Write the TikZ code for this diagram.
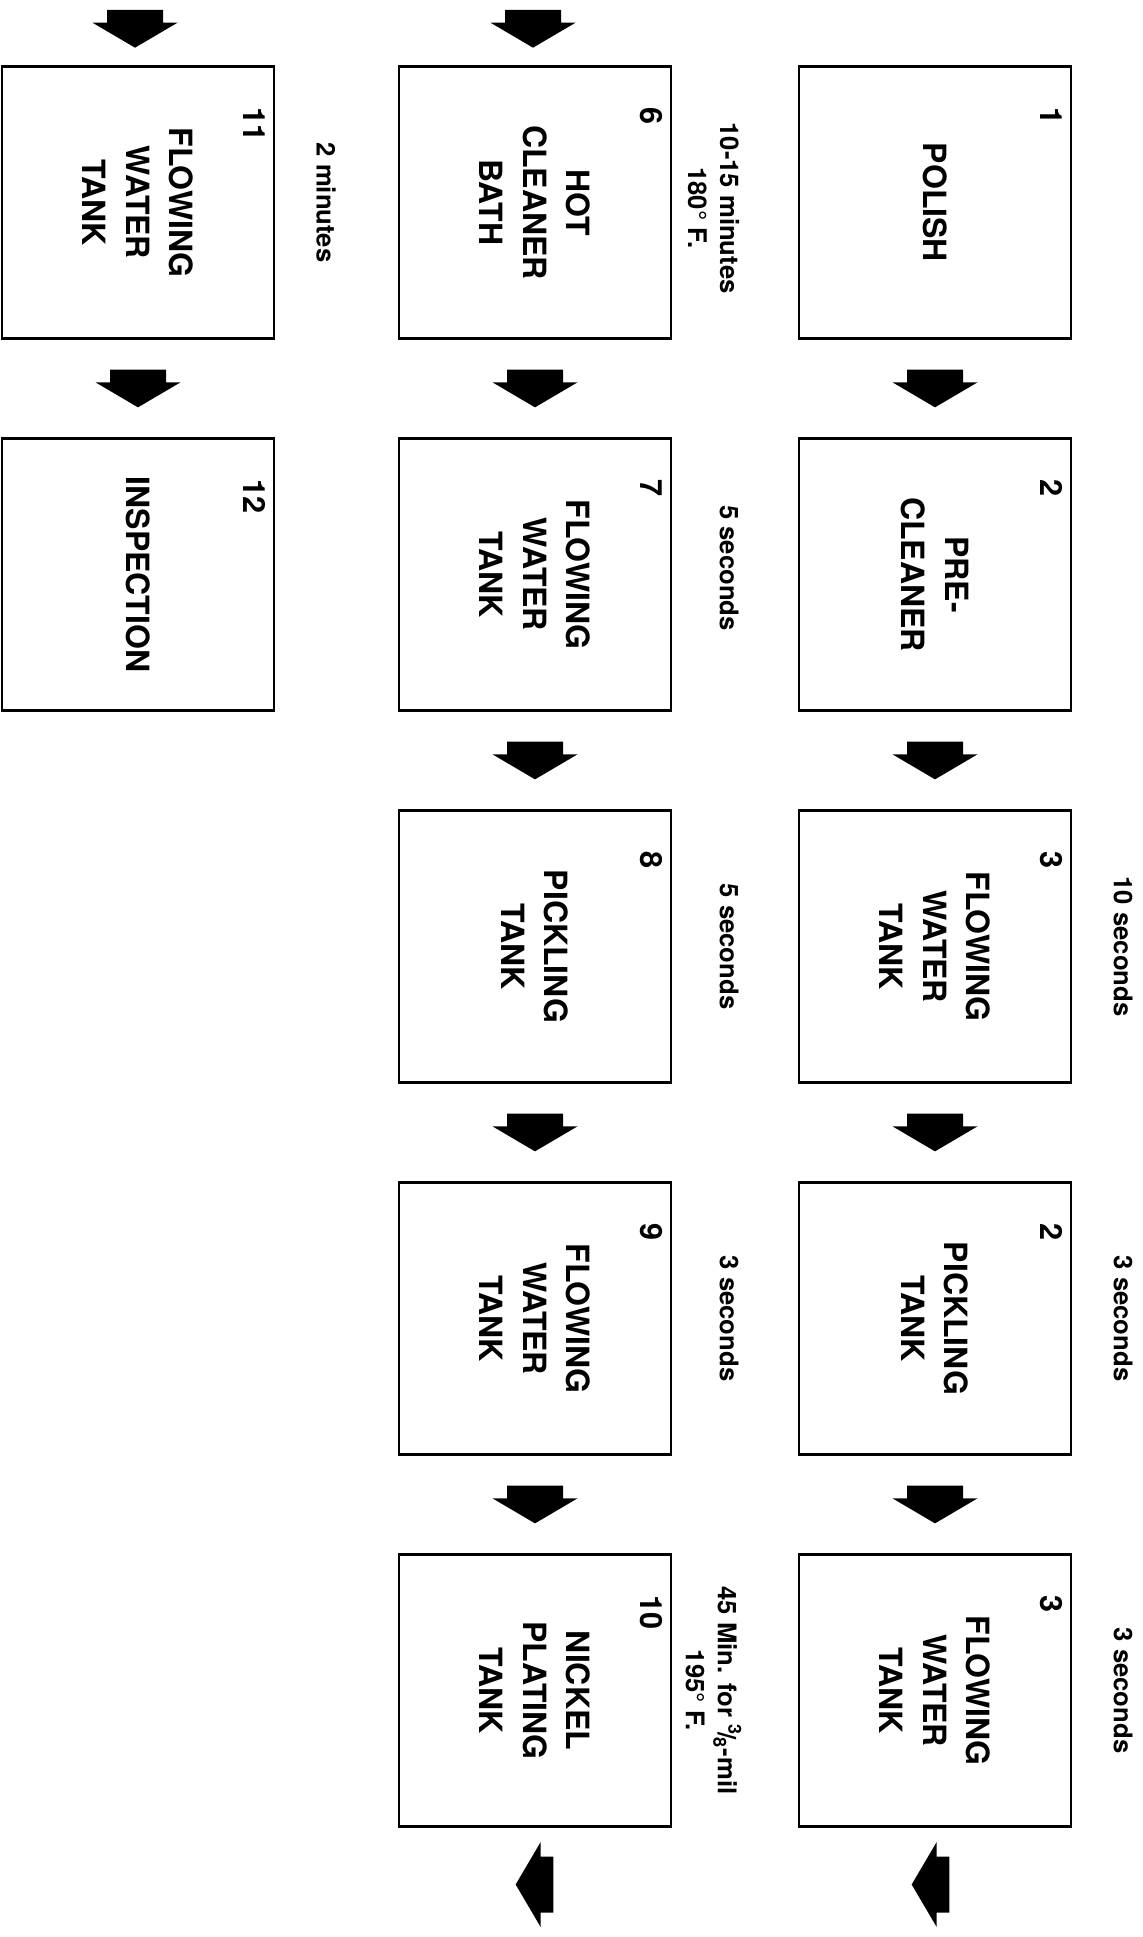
\documentclass[tikz,border=0pt]{standalone}
\usepackage{fontspec}
\setmainfont{TeX Gyre Heros}
\usetikzlibrary{positioning,calc}

\tikzset{
  stage/.style={draw, line width=0.7pt, rotate=-90, minimum width=2.72cm, minimum height=2.72cm,
    inner sep=0pt, outer sep=0pt, align=center, font=\fontsize{9.1}{12.4}\selectfont\bfseries},
  stagenum/.style={rotate=-90, anchor=north west, inner sep=0pt, font=\fontsize{8.7}{10}\selectfont\bfseries},
  timing/.style={rotate=-90, align=center, inner sep=0pt, font=\fontsize{7.3}{9.1}\selectfont\bfseries},
  flow/.pic={\fill (-28,-18.85) -- (28,-18.85) -- (28,-6.15) -- (42.5,-6.15) -- (0,18.85)
    -- (-42.5,-6.15) -- (-28,-6.15) -- cycle;}
}

\begin{document}
\begin{tikzpicture}[x=0.01cm,y=-0.01cm]
    \useasboundingbox (0,0) rectangle (1143,1937);

    % first line of tanks
    \node[stage] (a1) at (935,202.5) {POLISH};
    \node[stage] (a2) at (935,574.5) {PRE-\\CLEANER};
    \node[stage] (a3) at (935,946.5) {FLOWING\\WATER\\TANK};
    \node[stage] (a4) at (935,1318.5) {PICKLING\\TANK};
    \node[stage] (a5) at (935,1690.5) {FLOWING\\WATER\\TANK};

    % second line of tanks
    \node[stage] (b1) at (535,202.5) {HOT\\CLEANER\\BATH};
    \node[stage] (b2) at (535,574.5) {FLOWING\\WATER\\TANK};
    \node[stage] (b3) at (535,946.5) {PICKLING\\TANK};
    \node[stage] (b4) at (535,1318.5) {FLOWING\\WATER\\TANK};
    \node[stage] (b5) at (535,1690.5) {NICKEL\\PLATING\\TANK};

    % last line
    \node[stage] (c1) at (138,202.5) {FLOWING\\WATER\\TANK};
    \node[stage] (c2) at (138,574.5) {INSPECTION};

    % step numbers
    \node[stagenum] (na1) at ([shift={(-8,40)}]a1.north west) {1};
    \node[stagenum] (na2) at ([shift={(-8,40)}]a2.north west) {2};
    \node[stagenum] (na3) at ([shift={(-8,40)}]a3.north west) {3};
    \node[stagenum] (na4) at ([shift={(-8,40)}]a4.north west) {2};
    \node[stagenum] (na5) at ([shift={(-8,40)}]a5.north west) {3};
    \node[stagenum] (nb1) at ([shift={(-8,40)}]b1.north west) {6};
    \node[stagenum] (nb2) at ([shift={(-8,40)}]b2.north west) {7};
    \node[stagenum] (nb3) at ([shift={(-8,40)}]b3.north west) {8};
    \node[stagenum] (nb4) at ([shift={(-8,40)}]b4.north west) {9};
    \node[stagenum] (nb5) at ([shift={(-8,40)}]b5.north west) {10};
    \node[stagenum] (nc1) at ([shift={(-8,40)}]c1.north west) {11};
    \node[stagenum] (nc2) at ([shift={(-8,40)}]c2.north west) {12};

    % times
    \node[timing] (ta3) at (1123,946.5) {10 seconds};
    \node[timing] (ta4) at (1123,1318.5) {3 seconds};
    \node[timing] (ta5) at (1123,1690.5) {3 seconds};
    \node[timing] (tb1) at (713.5,208) {10-15 minutes\\180° F.};
    \node[timing] (tb2) at (729,568) {5 seconds};
    \node[timing] (tb3) at (729,946.5) {5 seconds};
    \node[timing] (tb4) at (729,1318.5) {3 seconds};
    \node[timing] (tb5) at (713.5,1690.5) {45 Min. for \textsuperscript{3}\kern-.12em/\kern-.12em\textsubscript{8}-mil\\195° F.};
    \node[timing] (tc1) at (326,202.5) {2 minutes};

    % arrows
    \pic at ($(a1.east)!0.5!(a2.west)$) {flow};
    \pic at ($(a2.east)!0.5!(a3.west)$) {flow};
    \pic at ($(a3.east)!0.5!(a4.west)$) {flow};
    \pic at ($(a4.east)!0.5!(a5.west)$) {flow};
    \pic[rotate=-90] at (930.5,1884.5) {flow};

    \pic at (533,28.85) {flow};
    \pic at ($(b1.east)!0.5!(b2.west)$) {flow};
    \pic at ($(b2.east)!0.5!(b3.west)$) {flow};
    \pic at ($(b3.east)!0.5!(b4.west)$) {flow};
    \pic at ($(b4.east)!0.5!(b5.west)$) {flow};
    \pic[rotate=-90] at (534.5,1884.5) {flow};

    \pic at (135,28.85) {flow};
    \pic at ($(c1.east)!0.5!(c2.west)$) {flow};
\end{tikzpicture}
\end{document}
